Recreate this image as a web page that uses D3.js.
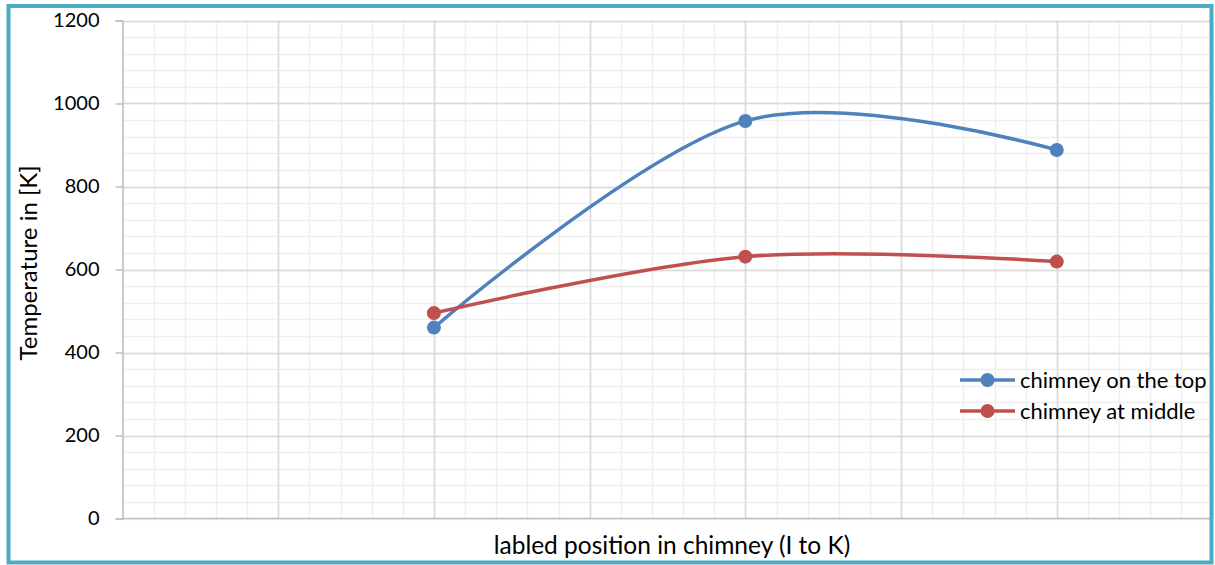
<!DOCTYPE html>
<html>
<head>
<meta charset="utf-8">
<script src="https://cdn.jsdelivr.net/npm/d3@7"></script>
<style>
  body { margin: 0; background: #fff; }
  text { font-family: Lato, "Liberation Sans", sans-serif; fill: #000; }
</style>
</head>
<body>
<script>
//chart data
var positions = [2, 4, 6];
var seriesNames = ["chimney on the top", "chimney at middle"];
var topValues = [460, 958, 888];
var middleValues = [495, 631, 619];
var yTicks = [0, 200, 400, 600, 800, 1000, 1200];
var colors = ["#4F81BD", "#C0504D"];

window.onload = drawChart();

function drawChart() {

    var width = 1215,
        height = 565;

    var svg = d3.select("body")
        .append("svg")
        .attr("width", width)
        .attr("height", height);

    //plot area
    var left = 122.5, right = 1212.5, top = 20.5, bottom = 518.5;

    var x = d3.scaleLinear().domain([0, 7]).range([left, right]);
    var y = d3.scaleLinear().domain([0, 1200]).range([bottom, top]);

    //minor gridlines
    var minorX = d3.range(0, 7.01, 0.2),
        minorY = d3.range(0, 1201, 40);

    svg.selectAll(".minorX")
        .data(minorX)
        .enter()
        .append("line")
        .attr("x1", function(d) { return Math.round(x(d)) + 0.5; })
        .attr("x2", function(d) { return Math.round(x(d)) + 0.5; })
        .attr("y1", top)
        .attr("y2", bottom)
        .attr("stroke", "#efefef")
        .attr("stroke-width", 1.5);

    svg.selectAll(".minorY")
        .data(minorY)
        .enter()
        .append("line")
        .attr("x1", left)
        .attr("x2", right)
        .attr("y1", function(d) { return Math.round(y(d)) + 0.5; })
        .attr("y2", function(d) { return Math.round(y(d)) + 0.5; })
        .attr("stroke", "#efefef")
        .attr("stroke-width", 1.5);

    //major gridlines
    svg.selectAll(".majorX")
        .data(d3.range(1, 7))
        .enter()
        .append("line")
        .attr("x1", function(d) { return Math.round(x(d)) + 0.5; })
        .attr("x2", function(d) { return Math.round(x(d)) + 0.5; })
        .attr("y1", top)
        .attr("y2", bottom)
        .attr("stroke", "#d9d9d9")
        .attr("stroke-width", 1.5);

    svg.selectAll(".majorY")
        .data(yTicks.slice(1))
        .enter()
        .append("line")
        .attr("x1", left)
        .attr("x2", right)
        .attr("y1", function(d) { return Math.round(y(d)) + 0.5; })
        .attr("y2", function(d) { return Math.round(y(d)) + 0.5; })
        .attr("stroke", "#d9d9d9")
        .attr("stroke-width", 1.5);

    //y axis
    var yAxis = svg.append("g")
        .attr("transform", "translate(" + left + ",0)")
        .call(d3.axisLeft(y).tickValues(yTicks).tickFormat(d3.format("d")).tickSize(7).tickPadding(16));
    yAxis.select(".domain").attr("stroke", "#bfbfbf").attr("stroke-width", 1.5);
    yAxis.selectAll(".tick line").attr("stroke", "#bfbfbf").attr("stroke-width", 1.5);
    yAxis.selectAll(".tick text")
        .style("font-family", "Lato, 'Liberation Sans', sans-serif")
        .style("font-size", "20px")
        .attr("fill", "#000");

    //x axis line
    svg.append("line")
        .attr("x1", left)
        .attr("x2", right)
        .attr("y1", bottom)
        .attr("y2", bottom)
        .attr("stroke", "#bfbfbf")
        .attr("stroke-width", 1.5);

    //axis titles
    svg.append("text")
        .attr("transform", "translate(37,263) rotate(-90)")
        .attr("text-anchor", "middle")
        .style("font-size", "24px")
        .text("Temperature in [K]");

    svg.append("text")
        .attr("x", 672)
        .attr("y", 554)
        .attr("text-anchor", "middle")
        .style("font-size", "24.5px")
        .text("labled position in chimney (I to K)");

    //series lines and markers
    var series = [topValues, middleValues];

    var line = d3.line()
        .x(function(d, i) { return x(positions[i]); })
        .y(function(d) { return y(d); })
        .curve(d3.curveCardinal.tension(0));

    series.forEach(function(values, s) {
        svg.append("path")
            .datum(values)
            .attr("fill", "none")
            .attr("stroke", colors[s])
            .attr("stroke-width", 3.5)
            .attr("d", line);

        svg.selectAll(".dot" + s)
            .data(values)
            .enter()
            .append("circle")
            .attr("cx", function(d, i) { return x(positions[i]); })
            .attr("cy", function(d) { return y(d); })
            .attr("r", 7)
            .attr("fill", colors[s]);
    });

    //legend
    var legend = svg.append("g")
        .attr("transform", "translate(960,380)");

    seriesNames.forEach(function(name, i) {
        var g = legend.append("g").attr("transform", "translate(0," + i * 31 + ")");
        g.append("line")
            .attr("x1", 0)
            .attr("x2", 55)
            .attr("stroke", colors[i])
            .attr("stroke-width", 3.5);
        g.append("circle")
            .attr("cx", 27.5)
            .attr("r", 7)
            .attr("fill", colors[i]);
        g.append("text")
            .attr("x", 60)
            .attr("dy", "0.35em")
            .style("font-size", "22px")
            .text(name);
    });

    //outer border
    svg.append("rect")
        .attr("x", 8.5)
        .attr("y", 6)
        .attr("width", 1203)
        .attr("height", 556.5)
        .attr("fill", "none")
        .attr("stroke", "#4BACC6")
        .attr("stroke-width", 4);
};
</script>
</body>
</html>
